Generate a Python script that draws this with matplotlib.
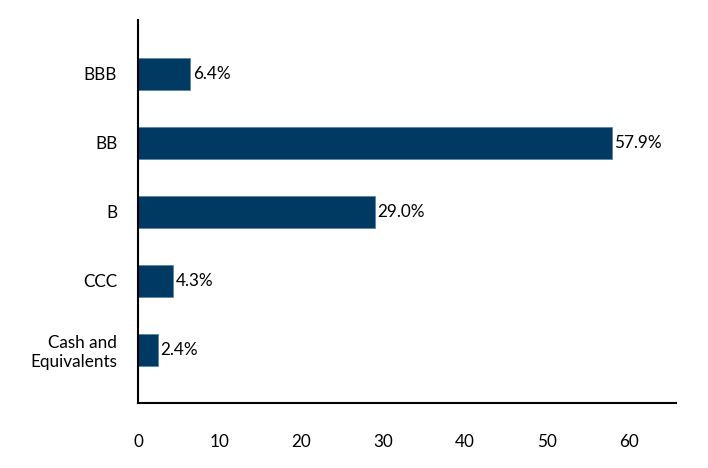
import matplotlib
matplotlib.use('Agg')
from matplotlib import pyplot as plt

categories = ['Cash and\nEquivalents', 'CCC', 'B', 'BB', 'BBB']
values = [2.4, 4.3, 29.0, 57.9, 6.4]
xticks = [0, 10, 20, 30, 40, 50, 60]

plt.rcParams['font.family'] = ['Lato', 'DejaVu Sans']

fig = plt.figure(figsize=(7.08, 4.68), dpi=100)
ax = fig.add_axes([0.195, 0.139, 0.760, 0.818])

bars = ax.barh(range(len(categories)), values, height=0.47,
               color='#003A63', edgecolor='#5b86a8', linewidth=0.6)
for b, v in zip(bars, values):
    ax.text(b.get_width() + 0.3, b.get_y() + b.get_height() / 2, f'{v:.1f}%',
            va='center', ha='left', fontsize=12.3, color='black')

ax.set_yticks(range(len(categories)))
ax.set_yticklabels(categories, fontsize=12.3, ha='right')
ax.set_xticks(xticks)
ax.set_xticklabels([str(t) for t in xticks], fontsize=12.3)
ax.set_xlim(0, 65.8)
ax.set_ylim(-0.77, 4.78)
ax.tick_params(axis='both', length=0)
ax.tick_params(axis='x', pad=22)
ax.tick_params(axis='y', pad=15)
for s in ['top', 'right']:
    ax.spines[s].set_visible(False)
for s in ['left', 'bottom']:
    ax.spines[s].set_linewidth(1.5)

fig.savefig('out.png', dpi=100)
